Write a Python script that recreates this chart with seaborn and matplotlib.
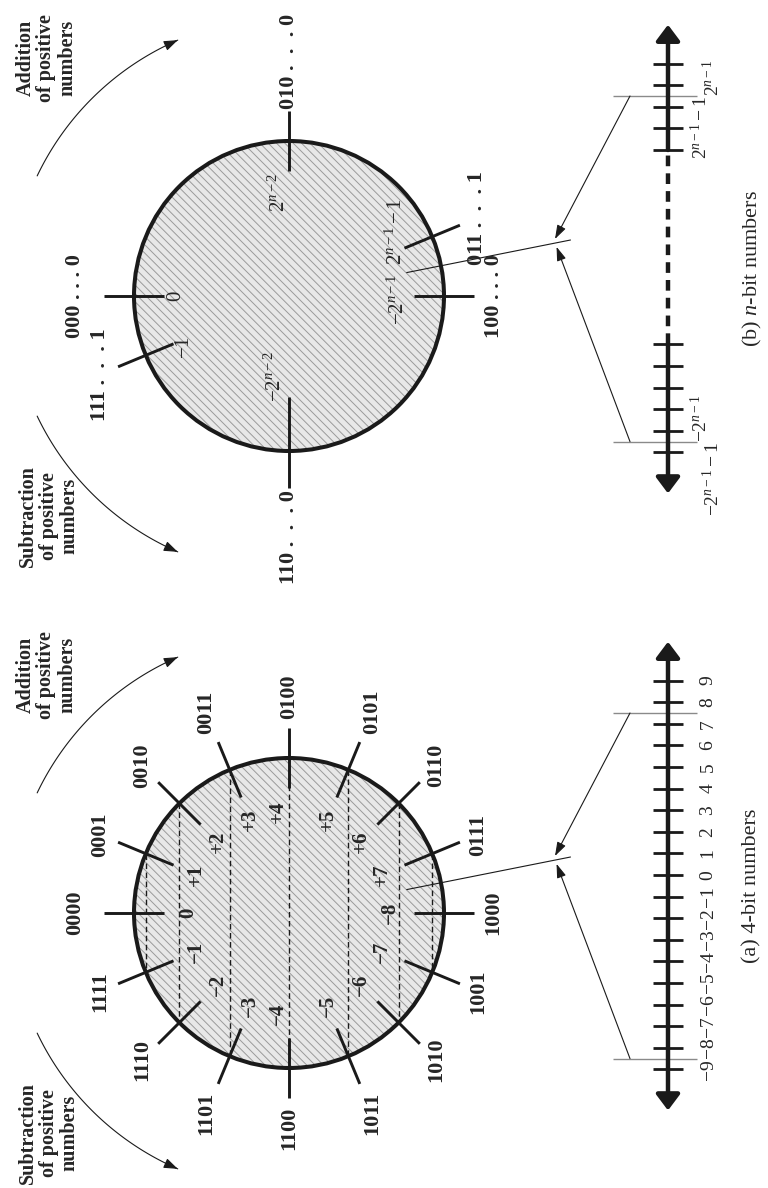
import numpy as np
import matplotlib
matplotlib.use('Agg')
import matplotlib.pyplot as plt
from matplotlib.patches import Circle
import seaborn as sns

sns.set_theme(style='white')
plt.rcParams['font.family'] = ['Liberation Serif', 'DejaVu Serif']
plt.rcParams['mathtext.fontset'] = 'custom'
plt.rcParams['mathtext.rm'] = 'Liberation Serif'
plt.rcParams['mathtext.it'] = 'Liberation Serif:italic'
plt.rcParams['mathtext.bf'] = 'Liberation Serif:bold'
plt.rcParams['hatch.color'] = '#9a9a9a'
plt.rcParams['hatch.linewidth'] = 0.7

# ---------------- data ----------------
# (a) 4-bit wheel: slot k holds code k, going round in the "addition" sense
codes_4bit = ['0000', '0001', '0010', '0011', '0100', '0101', '0110', '0111',
              '1000', '1001', '1010', '1011', '1100', '1101', '1110', '1111']
values_4bit = ['0', '+1', '+2', '+3', '+4', '+5', '+6', '+7',
               '−8', '−7', '−6', '−5', '−4', '−3', '−2', '−1']
# (a) number line
line_values_4bit = list(range(-9, 10))
line_labels_4bit = ['−9', '−8', '−7', '−6', '−5', '−4', '−3', '−2', '−1',
                    '0', '1', '2', '3', '4', '5', '6', '7', '8', '9']
wrap_4bit = [7.5, -8.5]

# (b) n-bit wheel: only a few slots are labelled
slots_nbit = [0, 4, 8, 12, 15, 7]
codes_nbit = ['000 . . . 0', '010 .  .  . 0', '100 . . . 0',
              '110 .  .  . 0', '111 .  .  . 1', '011 .  .  . 1']
values_nbit = ['0', '$2^{n-2}$', '$-2^{n-1}$', '$-2^{n-2}$', '$-1$', '$2^{n-1}-1$']
# (b) number line
ticks_nbit_low = [-9, -8, -7, -6, -5, -4]
ticks_nbit_high = [5, 6, 7, 8, 9]
line_labels_nbit = ['$-2^{n-1}-1$', '$-2^{n-1}$', '$2^{n-1}-1$', '$2^{n-1}$']
line_label_ticks_nbit = [-9, -8, 7, 8]
wrap_nbit = [7.5, -8.5]

captions = ['(a) 4-bit numbers', '(b) $n$-bit numbers']
arc_texts = ['Addition\nof positive\nnumbers', 'Subtraction\nof positive\nnumbers']

# ---------------- layout (pixels) ----------------
W, H = 768, 1188
CX = 289
CY_A, CY_B = 913, 296
R = 155
TICK_IN, TICK_OUT = 125, 185
LINE_X = 668
UNIT = 21.6
ZERO_SHIFT = -38
ARC_R = 279

fig = plt.figure(figsize=(W / 100, H / 100), dpi=100)
ax = fig.add_axes([0, 0, 1, 1])
ax.set_xlim(0, W)
ax.set_ylim(H, 0)
ax.set_aspect('equal')
ax.axis('off')
fig.canvas.draw()
renderer = fig.canvas.get_renderer()


def polar(cy, r, theta):
    t = np.deg2rad(theta)
    return CX + r * np.cos(t), cy + r * np.sin(t)


def slot_angle(k):
    return 180 + 22.5 * k


def yline(cy, v):
    return cy + ZERO_SHIFT - UNIT * np.asarray(v, dtype=float)


def put_beyond(x0, y0, theta, text, gap, **kw):
    # rotated label whose box just clears the point (x0, y0) along theta
    c, s = np.cos(np.deg2rad(theta)), np.sin(np.deg2rad(theta))
    t = ax.text(0, 0, text, rotation=90, ha='center', va='center', **kw)
    bb = t.get_window_extent(renderer)
    reach = []
    if abs(c) > 1e-6:
        reach.append(0.5 * bb.width / abs(c))
    if abs(s) > 1e-6:
        reach.append(0.5 * bb.height / abs(s))
    d = gap + min(reach)
    t.set_position((x0 + d * c, y0 + d * s))
    return t


def wheel(cy):
    ax.add_patch(Circle((CX, cy), R, facecolor='#e8e8e8', edgecolor='#9a9a9a',
                        lw=0, hatch='\\\\\\\\', zorder=1))
    ax.add_patch(Circle((CX, cy), R, fill=False, edgecolor='k', lw=2.9, zorder=3))


def radial_tick(cy, k, r0=TICK_IN, r1=TICK_OUT):
    th = slot_angle(k)
    x0, y0 = polar(cy, r0, th)
    x1, y1 = polar(cy, r1, th)
    ax.plot([x0, x1], [y0, y1], color='k', lw=2.1, zorder=4, solid_capstyle='butt')


def arcs(cy):
    head = dict(arrowstyle='-|>,head_length=0.6,head_width=0.22', color='k',
                lw=0.8, mutation_scale=14, shrinkA=0, shrinkB=0)
    for (th0, th1), txt, (tr, tth) in zip([(205.5, 246.5), (154.5, 113.5)], arc_texts,
                                          [(340, 224.5), (326, 137.5)]):
        th = np.linspace(th0, th1, 80)
        x, y = polar(cy, ARC_R, th)
        sns.lineplot(x=x, y=y, sort=False, estimator=None, color='k',
                     linewidth=0.8, ax=ax)
        ax.annotate('', xy=(x[-1], y[-1]), xytext=(x[-4], y[-4]), arrowprops=head)
        ax.text(*polar(cy, tr, tth), txt, rotation=90, ha='center', va='center',
                fontsize=14.5, fontweight='bold', linespacing=1.05,
                multialignment='center')


def number_line(cy, ticks, wraps, dotted=None):
    big = dict(color='k', lw=3.2, shrinkA=0, shrinkB=0, mutation_scale=24)
    top, bot = yline(cy, 10.8), yline(cy, -10.9)
    if dotted is None:
        ax.annotate('', xy=(LINE_X, top), xytext=(LINE_X, bot),
                    arrowprops=dict(arrowstyle='<|-|>,head_length=0.4,head_width=0.3', **big))
    else:
        lo, hi = yline(cy, dotted[0]), yline(cy, dotted[1])
        ax.annotate('', xy=(LINE_X, top), xytext=(LINE_X, hi),
                    arrowprops=dict(arrowstyle='-|>,head_length=0.4,head_width=0.3', **big))
        ax.annotate('', xy=(LINE_X, bot), xytext=(LINE_X, lo),
                    arrowprops=dict(arrowstyle='-|>,head_length=0.4,head_width=0.3', **big))
        ax.plot([LINE_X, LINE_X], [lo, hi], color='k', lw=3.2, ls=(0, (2.4, 1.6)))
    ax.hlines(yline(cy, ticks), LINE_X - 15, LINE_X + 15, color='k', lw=2.0)
    ax.hlines(yline(cy, wraps), LINE_X - 55, LINE_X + 29, color='#8a8a8a', lw=1.0)

    # wrap-around link from the wheel to both ends of the line
    th = -11.25
    x0, y0 = polar(cy, 120, th)
    x1, y1 = polar(cy, 287, th)
    ax.plot([x0, x1], [y0, y1], color='k', lw=0.8, zorder=4)
    px, py = polar(cy, 272, th)
    nx, ny = -np.sin(np.deg2rad(th)), np.cos(np.deg2rad(th))
    small = dict(arrowstyle='-|>,head_length=0.6,head_width=0.2', color='k',
                 lw=0.8, mutation_scale=14, shrinkA=0, shrinkB=0)
    ax.annotate('', xy=(px - 4 * nx, py - 4 * ny),
                xytext=(LINE_X - 38, yline(cy, wraps[0])), arrowprops=small)
    ax.annotate('', xy=(px + 4 * nx, py + 4 * ny),
                xytext=(LINE_X - 38, yline(cy, wraps[1])), arrowprops=small)


# ---------------- (a) 4-bit ----------------
cy = CY_A
wheel(cy)
for k in range(1, 8):
    th = slot_angle(k)
    x, y = polar(cy, R, th)
    ax.plot([x, x], [y, 2 * cy - y], color='k', lw=1.0, ls=(0, (4, 2.5)), zorder=2)
for k, (code, val) in enumerate(zip(codes_4bit, values_4bit)):
    th = slot_angle(k)
    radial_tick(cy, k)
    put_beyond(*polar(cy, TICK_OUT, th), th, code, 19 if k == 0 else 9,
               fontsize=16, fontweight='bold', zorder=5)
    xi, yi = polar(cy, 101, th)
    if k in (4, 12):
        xi -= 11
    ax.text(xi, yi, val, rotation=90, ha='center', va='center', fontsize=15,
            fontweight='bold', zorder=5)
arcs(cy)
number_line(cy, line_values_4bit, wrap_4bit)
for v, lab in zip(line_values_4bit, line_labels_4bit):
    ax.text(LINE_X + 40, yline(cy, v), lab, rotation=90, ha='center',
            va='center', fontsize=14)
ax.text(752, cy - 27, captions[0], rotation=90, ha='center', va='center',
        fontsize=16)

# ---------------- (b) n-bit ----------------
cy = CY_B
wheel(cy)
inner_nbit = [(180, 113), (264.5, 104), (2, 109), (100, 82), (153.6, 117), (-31, 125)]
gaps_nbit = [19, 2, 10, 2, 9, 8]
for k, code, val, (ith, ir), gap in zip(slots_nbit, codes_nbit, values_nbit,
                                        inner_nbit, gaps_nbit):
    th = slot_angle(k)
    r0, r1 = (101, 192) if k == 12 else (TICK_IN, TICK_OUT)
    radial_tick(cy, k, r0, r1)
    put_beyond(*polar(cy, r1, th), th, code, gap,
               fontsize=16, fontweight='bold', zorder=5)
    ax.text(*polar(cy, ir, ith), val, rotation=90, ha='center', va='center',
            fontsize=15, zorder=5)
arcs(cy)
number_line(cy, ticks_nbit_low + ticks_nbit_high, wrap_nbit,
            dotted=(ticks_nbit_low[-1], ticks_nbit_high[0]))
for v, lab in zip(line_label_ticks_nbit, line_labels_nbit):
    near = min(wrap_nbit, key=lambda w: abs(w - v))
    va = 'bottom' if v > near else 'top'
    xl = LINE_X + 32 if v in (7, -8) else LINE_X + 44
    ax.text(xl, yline(cy, near), lab, rotation=90, ha='center', va=va, fontsize=14)
ax.text(752, cy - 27, captions[1], rotation=90, ha='center', va='center',
        fontsize=16)

ax.set_xlim(0, W)
ax.set_ylim(H, 0)
fig.savefig('out.png', dpi=100, facecolor='white')
